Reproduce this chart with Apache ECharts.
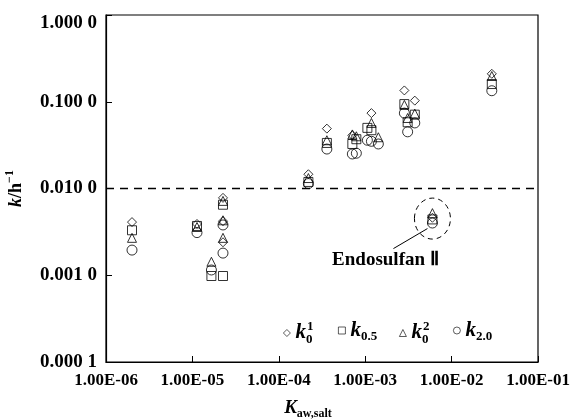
<!DOCTYPE html>
<html><head><meta charset="utf-8">
<script src="https://cdn.jsdelivr.net/npm/echarts@6/dist/echarts.min.js"></script>
<style>html,body{margin:0;padding:0;background:#fff}#c{width:573px;height:420px}</style>
</head><body><div id="c"></div>
<script>
// Tick labels
const xTickLabels = ['1.00E-06','1.00E-05','1.00E-04','1.00E-03','1.00E-02','1.00E-01'];
const yTickLabels = ['0.000 1','0.001 0','0.010 0','0.100 0','1.000 0'];
const thresholdK = 0.01;

// Series: k0^1 (diamond)
const k01X = [2.0e-6, 1.13e-5, 2.26e-5, 2.26e-5, 2.26e-5, 2.2e-4, 3.6e-4, 7.1e-4, 1.18e-3, 2.84e-3, 3.75e-3, 6.0e-3, 2.92e-2];
const k01Y = [0.0041, 0.0039, 0.0078, 0.0042, 0.0024, 0.0146, 0.049, 0.041, 0.074, 0.135, 0.103, 0.0046, 0.21];
// Series: k0.5 (square)
const k05X = [2.0e-6, 1.13e-5, 1.66e-5, 2.26e-5, 2.26e-5, 2.2e-4, 3.6e-4, 7.1e-4, 7.9e-4, 1.06e-3, 1.18e-3, 2.84e-3, 3.1e-3, 3.75e-3, 6.0e-3, 2.92e-2];
const k05Y = [0.0033, 0.0037, 0.00098, 0.0065, 0.00098, 0.0119, 0.0335, 0.0326, 0.037, 0.050, 0.047, 0.094, 0.058, 0.071, 0.0044, 0.16];
// Series: k0^2 (triangle)
const k02X = [2.0e-6, 1.13e-5, 1.66e-5, 2.26e-5, 2.26e-5, 2.26e-5, 2.2e-4, 3.6e-4, 7.1e-4, 7.9e-4, 1.18e-3, 1.42e-3, 2.84e-3, 3.1e-3, 3.75e-3, 6.0e-3, 2.92e-2];
const k02Y = [0.0027, 0.0036, 0.00143, 0.0072, 0.0043, 0.0027, 0.0132, 0.036, 0.042, 0.040, 0.057, 0.039, 0.092, 0.065, 0.073, 0.0052, 0.198];
// Series: k2.0 (circle)
const k20X = [2.0e-6, 1.13e-5, 1.66e-5, 2.26e-5, 2.26e-5, 2.2e-4, 3.6e-4, 7.1e-4, 7.9e-4, 1.06e-3, 1.18e-3, 1.42e-3, 2.84e-3, 3.1e-3, 3.75e-3, 6.0e-3, 2.92e-2];
const k20Y = [0.00195, 0.0031, 0.00115, 0.0038, 0.0018, 0.0114, 0.0285, 0.025, 0.0255, 0.036, 0.035, 0.0326, 0.074, 0.045, 0.057, 0.0040, 0.134];

// Annotated compound
const endoK = 6.0e-3;
const endoCenter = 0.0045;
const endoLabel = 'Endosulfan Ⅱ';

const seriesNames = ['k01','k05','k02','k20'];
const seriesSymbols = ['diamond','rect','triangle','circle'];
const seriesX = [k01X, k05X, k02X, k20X];
const seriesY = [k01Y, k05Y, k02Y, k20Y];
const legendRich = {
  'k01': '{k|k}{sub|0}{sup|1}',
  'k05': '{k|k}{sub2|0.5}',
  'k02': '{k|k}{sub|0}{sup|2}',
  'k20': '{k|k}{sub2|2.0}'
};

const FONT = "'Liberation Serif','Times New Roman',serif";
const chart = echarts.init(document.getElementById('c'), null, {renderer:'canvas'});

const richLegend = {
  k: {fontFamily: FONT, fontStyle:'italic', fontWeight:'bold', fontSize:21, lineHeight:26, color:'#000'},
  sub: {fontFamily: FONT, fontSize:13, fontWeight:'bold', verticalAlign:'bottom', lineHeight:14, width:1, color:'#000'},
  sub2: {fontFamily: FONT, fontSize:13, fontWeight:'bold', verticalAlign:'bottom', lineHeight:14, color:'#000'},
  sup: {fontFamily: FONT, fontSize:13, fontWeight:'bold', verticalAlign:'top', lineHeight:14, color:'#000'}
};
const legendLefts = [283, 338, 399, 453];

const series = seriesNames.map((n, i) => ({
  name: n,
  type: 'scatter',
  symbol: seriesSymbols[i],
  symbolSize: seriesSymbols[i] === 'circle' ? 10 : 9,
  data: seriesX[i].map((x, j) => [x, seriesY[i][j]]),
  itemStyle: {color: 'rgba(255,255,255,0)', borderColor: '#000', borderWidth: 1},
  emphasis: {disabled: true},
  silent: true,
  z: 3
}));
series[0].markLine = {
  silent: true, symbol: 'none', animation: false,
  label: {show: false},
  lineStyle: {color: '#000', type: [8, 6], width: 1.3},
  data: [{yAxis: thresholdK}]
};

const option = {
  animation: false,
  backgroundColor: '#fff',
  grid: {left: 106, right: 35, top: 15, bottom: 58, outerBoundsMode: 'none', containLabel: false,
         show: true, borderColor: '#000', borderWidth: 1.2, backgroundColor: 'transparent'},
  legend: seriesNames.map((n, i) => ({
    data: [n], left: legendLefts[i], top: 320, padding: 0, itemWidth: 7, itemHeight: 7,
    selectedMode: false, itemGap: 0,
    itemStyle: {color: 'rgba(255,255,255,0)', borderColor: '#000', borderWidth: 0.8},
    formatter: name => legendRich[name],
    textStyle: {rich: richLegend}
  })),
  xAxis: {
    type: 'log', logBase: 10, min: 1e-6, max: 1e-1,
    axisLine: {lineStyle: {color: '#000', width: 1.2}},
    axisTick: {inside: true, length: 6, lineStyle: {color: '#000'}},
    minorTick: {show: false},
    splitLine: {show: false},
    axisLabel: {
      margin: 10, color: '#000', fontFamily: FONT, fontSize: 17, fontWeight: 'bold', hideOverlap: false,
      formatter: v => xTickLabels[Math.round(Math.log10(v)) + 6]
    },
    name: '{K|K}{s|aw,salt}',
    nameLocation: 'middle', nameGap: 34,
    nameTextStyle: {
      rich: {
        K: {fontFamily: FONT, fontStyle: 'italic', fontWeight:'bold', fontSize: 19, lineHeight: 24, color:'#000'},
        s: {fontFamily: FONT, fontWeight:'bold', fontSize: 12, verticalAlign:'bottom', lineHeight: 14, color:'#000', padding:[0,28,0,0]}
      }
    }
  },
  yAxis: {
    type: 'log', logBase: 10, min: 1e-4, max: 1,
    axisLine: {lineStyle: {color: '#000', width: 1.2}},
    axisTick: {inside: true, length: 6, lineStyle: {color: '#000'}},
    minorTick: {show: false},
    splitLine: {show: false},
    axisLabel: {
      margin: 9, color: '#000', fontFamily: FONT, fontSize: 19, fontWeight: 'bold',
      formatter: v => {
        const idx = Math.round(Math.log10(v)) + 4;
        return idx === 4 ? '{t|' + yTickLabels[idx] + '}' : yTickLabels[idx];
      },
      rich: {t: {fontFamily: FONT, fontSize: 19, fontWeight: 'bold', color:'#000', padding: [16, 0, 0, 0]}}
    },
    name: '{i|k}{n|/h}{s|−1}',
    nameLocation: 'middle', nameGap: 78, nameRotate: 90,
    nameTextStyle: {
      rich: {
        i: {fontFamily: FONT, fontStyle:'italic', fontWeight:'bold', fontSize: 18, lineHeight: 24, color:'#000'},
        n: {fontFamily: FONT, fontWeight:'bold', fontSize: 18, lineHeight: 24, color:'#000'},
        s: {fontFamily: FONT, fontWeight:'bold', fontSize: 12, verticalAlign:'top', lineHeight: 14, color:'#000'}
      }
    }
  },
  series: series
};
chart.setOption(option);

const c = chart.convertToPixel({gridIndex: 0}, [endoK, endoCenter]);
chart.setOption({
  graphic: [
    {type: 'ellipse', x: c[0], y: c[1], shape: {cx: 0, cy: 0, rx: 18, ry: 20.5}, silent: true,
     style: {fill: 'none', stroke: '#000', lineWidth: 1, lineDash: [5, 4]}, z: 10},
    {type: 'line', silent: true, shape: {x1: c[0] - 39, y1: c[1] + 30, x2: c[0] - 5, y2: c[1] + 10},
     style: {stroke: '#000', lineWidth: 1}, z: 10},
    {type: 'text', silent: true, x: c[0] - 47, y: c[1] + 42,
     style: {text: endoLabel, fontFamily: FONT, fontSize: 19, fontWeight: 'bold', fill: '#000', align: 'center', verticalAlign: 'middle'}, z: 10}
  ]
});
</script></body></html>
